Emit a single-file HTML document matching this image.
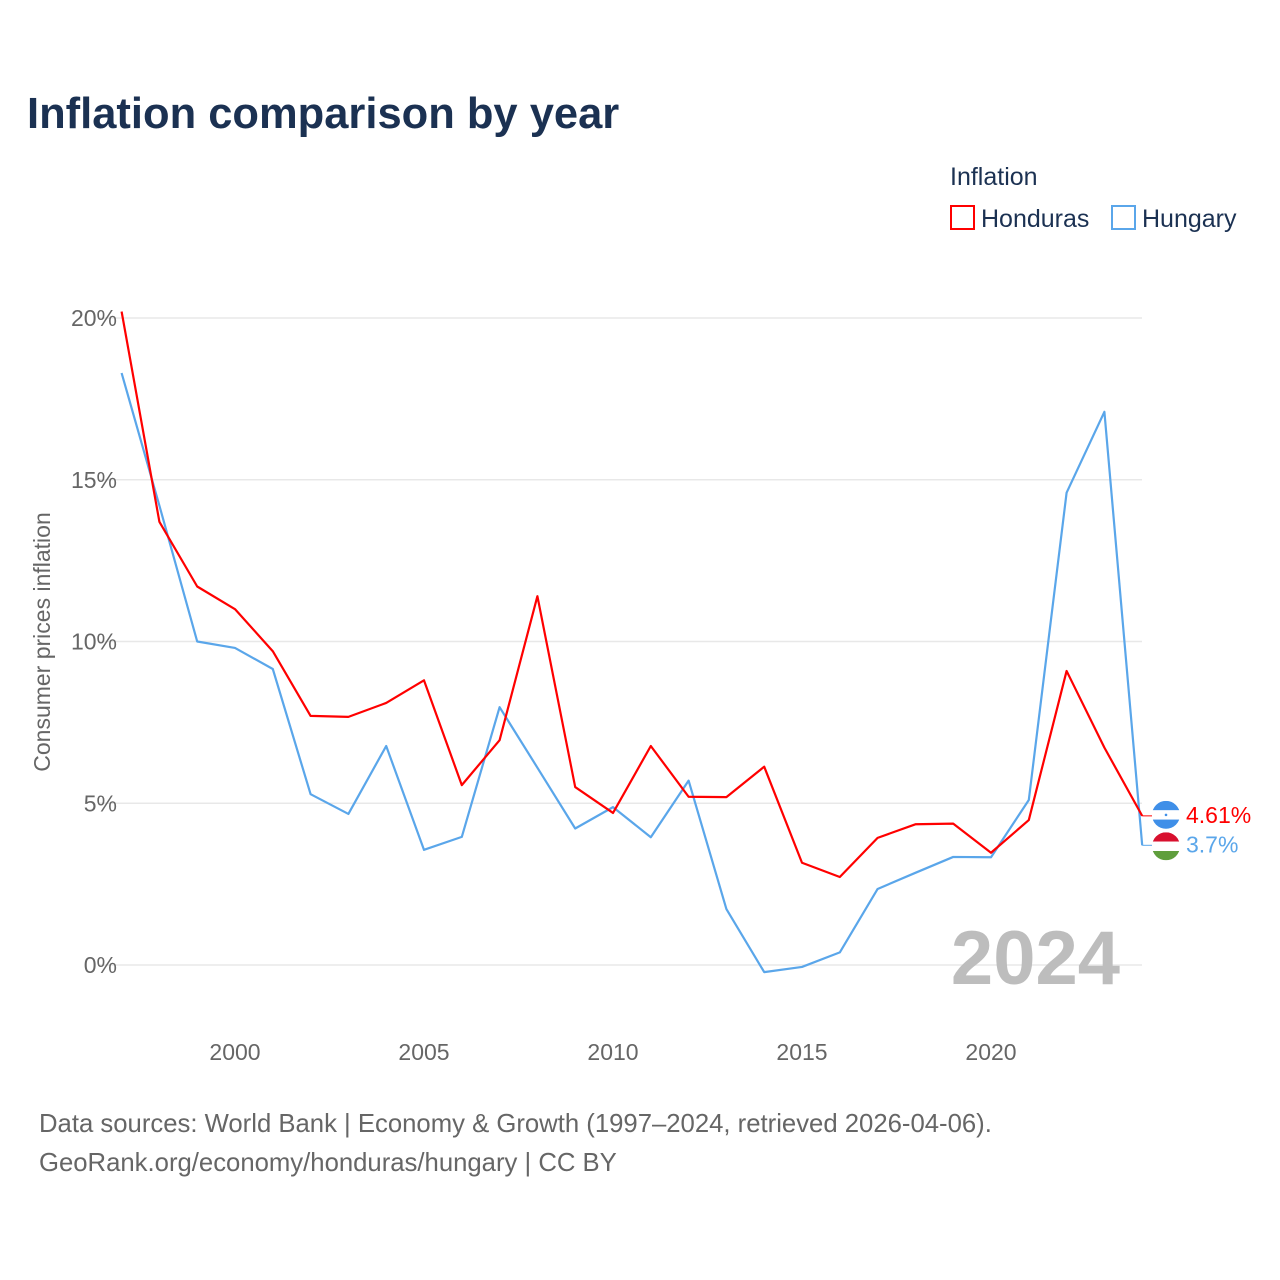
<!DOCTYPE html>
<html><head><meta charset="utf-8">
<style>
html,body{margin:0;padding:0;background:#fff;}
body{width:1280px;height:1280px;position:relative;font-family:"Liberation Sans",sans-serif;overflow:hidden;}
.t{position:absolute;white-space:nowrap;}
</style></head><body>
<div class="t" style="left:27px;top:90px;font-size:43.5px;font-weight:bold;color:#1b3152;">Inflation comparison by year</div>
<div class="t" style="left:950px;top:163px;font-size:25px;color:#1b3152;">Inflation</div>
<div class="t" style="left:950px;top:205px;font-size:25px;color:#1b3152;"><span style="display:inline-block;border:2px solid #f00;vertical-align:-3px;margin-right:6px;box-sizing:border-box;width:25px;height:25px;"></span>Honduras</div>
<div class="t" style="left:1111px;top:205px;font-size:25px;color:#1b3152;"><span style="display:inline-block;border:2px solid #5aa6ea;vertical-align:-3px;margin-right:6px;box-sizing:border-box;width:25px;height:25px;"></span>Hungary</div>
<svg id="chart" width="1280" height="1280" style="position:absolute;left:0;top:0;" xmlns="http://www.w3.org/2000/svg"></svg>
<div class="t" style="left:39px;top:1105px;font-size:25.7px;color:#666;line-height:39px;">Data sources: World Bank | Economy &amp; Growth (1997–2024, retrieved 2026-04-06).<br>GeoRank.org/economy/honduras/hungary | CC BY</div>
<script>
const years=[1997,1998,1999,2000,2001,2002,2003,2004,2005,2006,2007,2008,2009,2010,2011,2012,2013,2014,2015,2016,2017,2018,2019,2020,2021,2022,2023,2024];
const honduras=[20.2,13.7,11.7,11.0,9.7,7.7,7.67,8.1,8.8,5.56,6.95,11.4,5.5,4.7,6.77,5.2,5.19,6.13,3.16,2.72,3.93,4.35,4.37,3.47,4.48,9.09,6.72,4.61];
const hungary=[18.3,14.2,10.0,9.8,9.15,5.28,4.67,6.77,3.56,3.96,7.97,6.1,4.22,4.88,3.95,5.7,1.73,-0.22,-0.06,0.39,2.35,2.85,3.34,3.33,5.1,14.6,17.1,3.7];
const yTicks=[0,5,10,15,20];
const xTicks=[2000,2005,2010,2015,2020];
const NS="http://www.w3.org/2000/svg";
const svg=document.getElementById('chart');
const x=v=>121.6+(v-1997)*37.8;
const y=v=>965-v*32.35;
function mk(tag,attrs,text){const e=document.createElementNS(NS,tag);for(const k in attrs)e.setAttribute(k,attrs[k]);if(text!==undefined)e.textContent=text;svg.appendChild(e);return e;}
yTicks.forEach(t=>{
  const g=mk('line',{x1:100,x2:1142,y1:y(t),y2:y(t),stroke:'#e8e8e8','stroke-width':1.5});
  
  
  const l=mk('text',{x:117,y:y(t)+8,'text-anchor':'end','font-size':23,fill:'#666','font-family':'Liberation Sans, sans-serif'},t+'%');
  
  
});
xTicks.forEach(t=>{
  const l=mk('text',{x:x(t),y:1060,'text-anchor':'middle','font-size':23,fill:'#666','font-family':'Liberation Sans, sans-serif'},t);
  
  
});
const yt=mk('text',{x:0,y:0,transform:'translate(50,642) rotate(-90)','text-anchor':'middle','font-size':23,fill:'#666','font-family':'Liberation Sans, sans-serif'},'Consumer prices inflation');


const yr=mk('text',{x:1120,y:984,'text-anchor':'end','font-size':76,'font-weight':'bold',fill:'#bdbdbd','font-family':'Liberation Sans, sans-serif'},'2024');


function series(vals,color,name){
  const p=mk('polyline',{points:vals.map((v,i)=>x(years[i])+','+y(v)).join(' '),fill:'none',stroke:color,'stroke-width':2.2,'stroke-linejoin':'round'});
  
  
}
series(hungary,'#5aa6ea','hungary-line');
series(honduras,'#ff0000','honduras-line');
const last=years.length-1;
const hy=y(honduras[last]), gy=y(hungary[last]);
mk('line',{x1:x(2024),x2:1152,y1:hy,y2:hy,stroke:'#f00','stroke-width':1});
mk('line',{x1:x(2024),x2:1152,y1:gy,y2:gy,stroke:'#5aa6ea','stroke-width':1});
const fx=1166, fy1=hy-1, fy2=gy+1;
const defs=mk('defs',{});
defs.innerHTML='<clipPath id="c1"><circle cx="'+fx+'" cy="'+fy1+'" r="14"/></clipPath><clipPath id="c2"><circle cx="'+fx+'" cy="'+fy2+'" r="14"/></clipPath>';
const f1=mk('g',{'clip-path':'url(#c1)'});


f1.innerHTML='<rect x="'+(fx-14)+'" y="'+(fy1-14)+'" width="28" height="28" fill="#fff"/><rect x="'+(fx-14)+'" y="'+(fy1-14)+'" width="28" height="9.3" fill="#3f8fe8"/><rect x="'+(fx-14)+'" y="'+(fy1+4.7)+'" width="28" height="9.3" fill="#3f8fe8"/><circle cx="'+fx+'" cy="'+fy1+'" r="1.3" fill="#3f8fe8"/>';
const f2=mk('g',{'clip-path':'url(#c2)'});


f2.innerHTML='<rect x="'+(fx-14)+'" y="'+(fy2-14)+'" width="28" height="9.3" fill="#d8102e"/><rect x="'+(fx-14)+'" y="'+(fy2-4.7)+'" width="28" height="9.4" fill="#fff"/><rect x="'+(fx-14)+'" y="'+(fy2+4.7)+'" width="28" height="9.3" fill="#5f9e3c"/>';
const l1=mk('text',{x:1186,y:hy+7,'font-size':23,fill:'#f00','font-family':'Liberation Sans, sans-serif'},honduras[last]+'%');


const l2=mk('text',{x:1186,y:gy+7,'font-size':23,fill:'#5aa6ea','font-family':'Liberation Sans, sans-serif'},hungary[last]+'%');


</script>
</body></html>
